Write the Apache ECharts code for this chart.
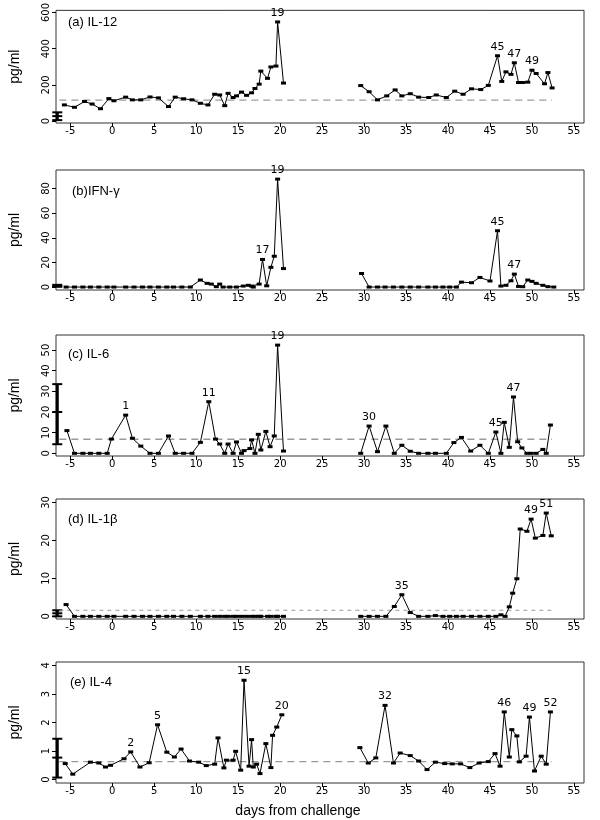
<!DOCTYPE html>
<html><head><meta charset="utf-8">
<script src="https://cdn.jsdelivr.net/npm/echarts@6/dist/echarts.min.js"></script>
<style>html,body{margin:0;padding:0;background:#fff}#c{width:600px;height:820px}</style>
</head><body><div id="c"></div>
<script>
// ---------- data ----------
const xTicks = [-5,0,5,10,15,20,25,30,35,40,45,50,55];

// (a) IL-12
const aDays = [-5.7,-4.5,-3.3,-2.4,-1.4,-0.4,0.2,1.6,2.4,3.4,4.5,5.5,6.7,7.5,8.5,9.5,10.5,11.4,12.2,12.8,13.4,13.8,14.4,14.8,15.4,16.0,16.6,17.0,17.5,17.7,18.5,18.9,19.5,19.7,20.4,
  29.6,30.6,31.6,32.7,33.7,34.5,35.5,36.5,37.7,38.6,39.8,40.8,41.8,42.8,43.9,44.8,45.9,46.4,46.9,47.5,47.9,48.4,48.9,49.5,50.0,50.5,51.5,51.9,52.4];
const aVals = [89,76,108,94,68,124,112,132,117,117,133,128,80,132,123,117,98,89,148,144,85,153,130,139,160,142,156,180,204,276,236,299,304,548,210,
  196,162,117,139,172,139,151,132,130,144,130,165,148,178,174,197,361,219,272,258,322,213,213,215,281,263,206,268,183];
const aLabels = [[19.7,'19'],[45.9,'45'],[47.9,'47'],[50.0,'49']];
const aTicks = [0,200,400,600];
const aErr = [5,27,48];
const aRef = 115;

// (b) IFN-γ
const bDays = [-5.5,-4.5,-3.5,-2.6,-1.6,-0.6,0.2,1.6,2.6,3.6,4.5,5.5,6.5,7.3,8.3,9.3,10.5,11.3,11.8,12.4,12.8,13.2,14.0,14.8,15.6,16.2,16.6,16.8,17.5,17.9,18.4,18.9,19.3,19.7,20.4,
  29.7,30.6,31.6,32.5,33.5,34.5,35.5,36.5,37.6,38.5,39.4,40.2,41.0,41.6,42.8,43.8,45.0,45.9,46.3,46.9,47.5,47.9,48.4,48.9,49.5,50.0,50.5,51.3,51.9,52.6];
const bVals = [0,0,0,0,0,0,0,0,0,0,0,0,0,0,0,0,5.7,3.0,2.4,0.3,2.4,0,0,0,0.8,1.4,0.8,0,2.4,22.4,1,16,25,87.6,15,
  11,0,0,0,0,0,0,0,0,0,0,0,0,4,3.5,7.8,4.9,45.7,0.8,1.4,5.1,10.5,0.5,0.3,5.7,4.6,3,1.4,0.3,0];
const bLabels = [[17.9,'17'],[19.7,'19'],[45.9,'45'],[47.9,'47']];
const bTicks = [0,20,40,60,80];
const bErr = [0.2,1,1.8];
const bRef = null;

// (c) IL-6
const cDays = [-5.4,-4.5,-3.5,-2.6,-1.6,-0.6,-0.1,1.6,2.4,3.4,4.5,5.5,6.7,7.5,8.5,9.5,10.5,11.5,12.3,12.8,13.4,13.8,14.4,14.8,15.4,15.7,16.4,16.6,17.0,17.4,17.7,18.3,18.8,19.3,19.7,20.4,
  29.6,30.6,31.6,32.6,33.6,34.5,35.5,36.5,37.6,38.5,39.8,40.7,41.6,42.7,43.8,44.8,45.7,46.3,46.7,47.3,47.8,48.3,48.8,49.4,49.9,50.5,51.3,51.7,52.2];
const cVals = [11,0,0,0,0,0,6.9,18.5,7.3,3.5,0,0,8.4,0,0,0,5.3,25,6.9,4.5,0,4.5,0,5.5,0,1.3,2.3,6.5,0,9.2,1.6,10.6,3.2,8.4,52.4,1.1,
  0,13.2,0.8,13.2,0,3.9,1,0,0,0,0,5.2,7.7,1.1,3.9,0,10.3,0,15,2.9,27.3,5.6,2.6,0,0,0,1.9,0,13.7];
const cLabels = [[1.6,'1'],[11.5,'11'],[19.7,'19'],[30.6,'30'],[45.7,'45'],[47.8,'47']];
const cTicks = [0,10,20,30,40,50];
const cErr = [4.4,20,33.5];
const cRef = 6.8;

// (d) IL-1β
const dDays = [-5.5,-4.5,-3.5,-2.6,-1.6,-0.6,0.2,1.6,2.6,3.6,4.5,5.5,6.5,7.3,8.3,9.3,10.5,11.4,12.2,12.8,13.4,13.8,14.4,14.8,15.4,16.0,16.6,17.0,17.5,17.7,18.5,18.9,19.5,19.7,20.4,
  29.6,30.6,31.6,32.6,33.6,34.5,35.5,36.5,37.6,38.5,39.4,40.2,41.0,41.8,42.8,43.8,44.8,45.7,46.3,46.8,47.3,47.7,48.2,48.6,49.4,49.9,50.4,51.3,51.7,52.3];
const dVals = [3.1,0,0,0,0,0,0,0,0,0,0,0,0,0,0,0,0,0,0,0,0,0,0,0,0,0,0,0,0,0,0,0,0,0,0,
  0,0,0,0,2.6,5.7,1,0,0,0.2,0,0,0,0,0,0,0,0,0.4,0,2.5,6.1,9.9,23,22.4,25.6,20.6,21.3,27.2,21.2];
const dLabels = [[34.5,'35'],[49.9,'49'],[51.7,'51']];
const dTicks = [0,10,20,30];
const dErr = [0,0.8,1.6];
const dRef = 1.6;

// (e) IL-4
const eDays = [-5.6,-4.7,-2.6,-1.6,-0.8,-0.2,1.4,2.2,3.3,4.4,5.4,6.5,7.4,8.2,9.2,10.3,11.2,12.2,12.6,13.3,13.6,14.4,14.7,15.3,15.7,16.3,16.6,16.8,17.2,17.6,18.3,18.9,19.1,19.6,20.2,
  29.5,30.5,31.4,32.5,33.5,34.3,35.5,36.5,37.5,38.5,39.6,40.5,41.5,42.6,43.7,44.8,45.6,46.2,46.7,47.3,47.6,48.2,48.5,49.3,49.7,50.3,51.1,51.7,52.2];
const eVals = [0.56,0.19,0.61,0.58,0.44,0.50,0.73,0.97,0.44,0.59,1.92,0.96,0.79,1.07,0.65,0.61,0.49,0.54,1.46,0.41,0.68,0.68,0.99,0.33,3.48,0.47,1.40,0.44,0.54,0.21,1.26,0.42,1.55,1.84,2.27,
  1.12,0.58,0.76,2.60,0.58,0.93,0.84,0.65,0.35,0.61,0.56,0.55,0.55,0.42,0.58,0.63,0.91,0.47,2.37,0.79,1.75,1.53,0.62,0.82,2.19,0.30,0.82,0.54,2.37];
const eLabels = [[2.2,'2'],[5.4,'5'],[15.7,'15'],[20.2,'20'],[32.5,'32'],[46.7,'46'],[49.7,'49'],[52.2,'52']];
const eTicks = [0,1,2,3,4];
const eErr = [0.07,0.77,1.43];
const eRef = 0.63;

const titles = ['(a) IL-12','(b)IFN-γ','(c) IL-6','(d) IL-1β','(e) IL-4'];
const refSpan = [-6.3, 52.4];
const errX = -6.55;

// ---------- layout ----------
const FONT = '"Liberation Sans", Arial, sans-serif';
const panels = [
  {days:aDays, vals:aVals, labels:aLabels, ticks:aTicks, err:aErr, ref:aRef, top:5, h:118, ymin:-11, ymax:612, tTop:16, tLeft:68},
  {days:bDays, vals:bVals, labels:bLabels, ticks:bTicks, err:bErr, ref:bRef, top:170, h:120, ymin:-2.4, ymax:95, tTop:185, tLeft:72},
  {days:cDays, vals:cVals, labels:cLabels, ticks:cTicks, err:cErr, ref:cRef, top:335, h:121, ymin:-1.3, ymax:57.3, tTop:348, tLeft:68},
  {days:dDays, vals:dVals, labels:dLabels, ticks:dTicks, err:dErr, ref:dRef, top:499, h:120, ymin:-0.7, ymax:30.9, tTop:513, tLeft:68},
  {days:eDays, vals:eVals, labels:eLabels, ticks:eTicks, err:eErr, ref:eRef, top:662, h:121, ymin:-0.12, ymax:4.12, tTop:676, tLeft:70}
];

const grid=[], xAxis=[], yAxis=[], series=[], title=[];
panels.forEach((p,i)=>{
  grid.push({left:52, right:16, top:p.top, height:p.h, show:true, borderColor:'#333', borderWidth:1, backgroundColor:'transparent'});
  xAxis.push({gridIndex:i, type:'value', min:-6.7, max:56.2, position:'bottom',
    axisLine:{show:false, onZero:false}, splitLine:{show:false},
    axisTick:{show:true, length:4, customValues:xTicks, lineStyle:{color:'#000'}},
    axisLabel:{customValues:xTicks, margin:3, fontSize:10, color:'#000', fontFamily:'"DejaVu Sans", sans-serif'}});
  yAxis.push({gridIndex:i, type:'value', min:p.ymin, max:p.ymax, position:'left',
    axisLine:{show:false, onZero:false}, splitLine:{show:false},
    axisTick:{show:true, length:4, customValues:p.ticks, lineStyle:{color:'#000'}},
    axisLabel:{customValues:p.ticks, rotate:90, margin:5, fontSize:10, color:'#000', fontFamily:'"DejaVu Sans", sans-serif'},
    name:'pg/ml', nameLocation:'middle', nameGap:34, nameTextStyle:{fontSize:14, color:'#000', fontFamily:FONT}});
  title.push({text:titles[i], left:p.tLeft, top:p.tTop, padding:0, textStyle:{fontSize:13, fontWeight:'normal', color:'#000', fontFamily:FONT}});

  const data=[];
  p.days.forEach((d,k)=>{
    if(k>0 && d - p.days[k-1] > 5) data.push({value:[(d+p.days[k-1])/2,'-']});
    const lab = p.labels.find(l=>l[0]===d);
    const item = {value:[d,p.vals[k]]};
    if(lab) item.label = {show:true, formatter:lab[1], position:'top', distance:2, fontSize:11, color:'#000', fontFamily:'"DejaVu Sans", sans-serif'};
    data.push(item);
  });
  if(p.ref!==null){
    series.push({type:'line', xAxisIndex:i, yAxisIndex:i, data:[[refSpan[0],p.ref],[refSpan[1],p.ref]],
      symbol:'none', silent:true, animation:false,
      lineStyle:{color:'#9a9a9a', width:i===3?1:1.3, type:i===3?[4,4]:[7,5]}});
  }
  series.push({type:'line', xAxisIndex:i, yAxisIndex:i, data:data, connectNulls:false,
    symbol:'rect', symbolSize:[5,3], showAllSymbol:true, animation:false,
    lineStyle:{color:'#000', width:1}, itemStyle:{color:'#000'}});
  series.push({type:'custom', xAxisIndex:i, yAxisIndex:i, data:[[errX, p.err[0], p.err[1], p.err[2]]],
    encode:{x:0, y:[1,2,3]}, animation:false, clip:false,
    renderItem:(params, api)=>{
      const lo = api.coord([api.value(0), api.value(1)]);
      const mid = api.coord([api.value(0), api.value(2)]);
      const hi = api.coord([api.value(0), api.value(3)]);
      const w = 5;
      const cap = (pt)=>({type:'line', shape:{x1:pt[0]-w, y1:pt[1], x2:pt[0]+w, y2:pt[1]}, style:{stroke:'#000', lineWidth:2}});
      return {type:'group', children:[
        {type:'line', shape:{x1:lo[0], y1:lo[1], x2:hi[0], y2:hi[1]}, style:{stroke:'#000', lineWidth:3}},
        cap(lo), cap(mid), cap(hi)
      ]};
    }});
});

const chart = echarts.init(document.getElementById('c'), null, {renderer:'canvas'});
chart.setOption({
  animation:false, backgroundColor:'#fff', title, grid, xAxis, yAxis, series,
  graphic:[{type:'text', x:298, y:811, style:{text:'days from challenge', fill:'#000', font:'14px '+FONT, textAlign:'center', textVerticalAlign:'middle'}}]
});
</script></body></html>
